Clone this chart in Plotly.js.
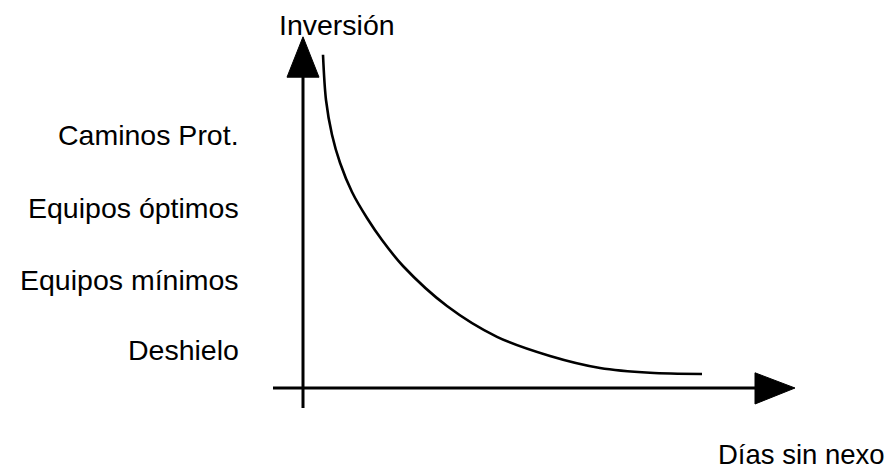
<!DOCTYPE html>
<html>
<head>
<meta charset="utf-8">
<script src="https://cdn.plot.ly/plotly-3.0.1.min.js"></script>
<style>html,body{margin:0;padding:0;background:#fff;}#chart{width:895px;height:471px;}</style>
</head>
<body>
<div id="chart"></div>
<script>
// Curve: investment vs. days without connection (arbitrary units)
const dias      = [0.5, 0.575, 0.725, 0.925, 1.225, 1.6, 1.975, 2.5, 3.6, 4.85, 6.175, 7.425, 8.675, 9.975];
const inversion = [8.33, 7.2, 6.33, 5.63, 4.9, 4.25, 3.7, 3.05, 2.05, 1.28, 0.8, 0.5, 0.38, 0.35];

// Level labels on the investment axis
const niveles = ["Caminos Prot.", "Equipos óptimos", "Equipos mínimos", "Deshielo"];
const nivelY  = [6.33, 4.5, 2.7, 0.95];

const tituloY = "Inversión";
const tituloX = "Días sin nexo";

const FONT = "Liberation Sans, Arial, Helvetica, sans-serif";
const FS = 28.5;

const trace = {
  x: dias, y: inversion, type: "scatter", mode: "lines",
  line: {color: "#000", width: 2.6, shape: "spline", smoothing: 0.9},
  hoverinfo: "skip", showlegend: false
};

const annotations = niveles.map((t, i) => ({
  x: -1.55, y: nivelY[i], xref: "x", yref: "y", text: t, showarrow: false,
  xanchor: "right", yanchor: "middle", font: {family: FONT, size: FS, color: "#000"}
}));
annotations.push({x: 0.85, y: 9.08, xref: "x", yref: "y", text: tituloY, showarrow: false,
  xanchor: "center", yanchor: "middle", font: {family: FONT, size: FS, color: "#000"}});
annotations.push({x: 14.6, y: -1.66, xref: "x", yref: "y", text: tituloX, showarrow: false,
  xanchor: "right", yanchor: "middle", font: {family: FONT, size: 27.5, color: "#000"}});

const shapes = [
  // y axis line
  {type: "line", xref: "x", yref: "y", x0: 0, x1: 0, y0: -0.5, y1: 7.8, line: {color: "#000", width: 3}},
  // y axis arrowhead
  {type: "path", xref: "x", yref: "y", path: "M -0.4 7.77 L 0.4 7.77 L 0 8.78 Z", fillcolor: "#000", line: {color: "#000", width: 1}},
  // x axis line
  {type: "line", xref: "x", yref: "y", x0: -0.75, x1: 11.35, y0: 0, y1: 0, line: {color: "#000", width: 3}},
  // x axis arrowhead
  {type: "path", xref: "x", yref: "y", path: "M 11.3 0.38 L 11.3 -0.4 L 12.3 0 Z", fillcolor: "#000", line: {color: "#000", width: 1}}
];

const layout = {
  width: 895, height: 471,
  margin: {l: 0, r: 0, t: 0, b: 0, pad: 0},
  paper_bgcolor: "#fff", plot_bgcolor: "#fff",
  xaxis: {range: [-7.575, 14.8], visible: false, fixedrange: true},
  yaxis: {range: [-2.075, 9.7], visible: false, fixedrange: true},
  showlegend: false,
  annotations: annotations,
  shapes: shapes
};

Plotly.newPlot("chart", [trace], layout, {displayModeBar: false, staticPlot: true});
</script>
</body>
</html>
